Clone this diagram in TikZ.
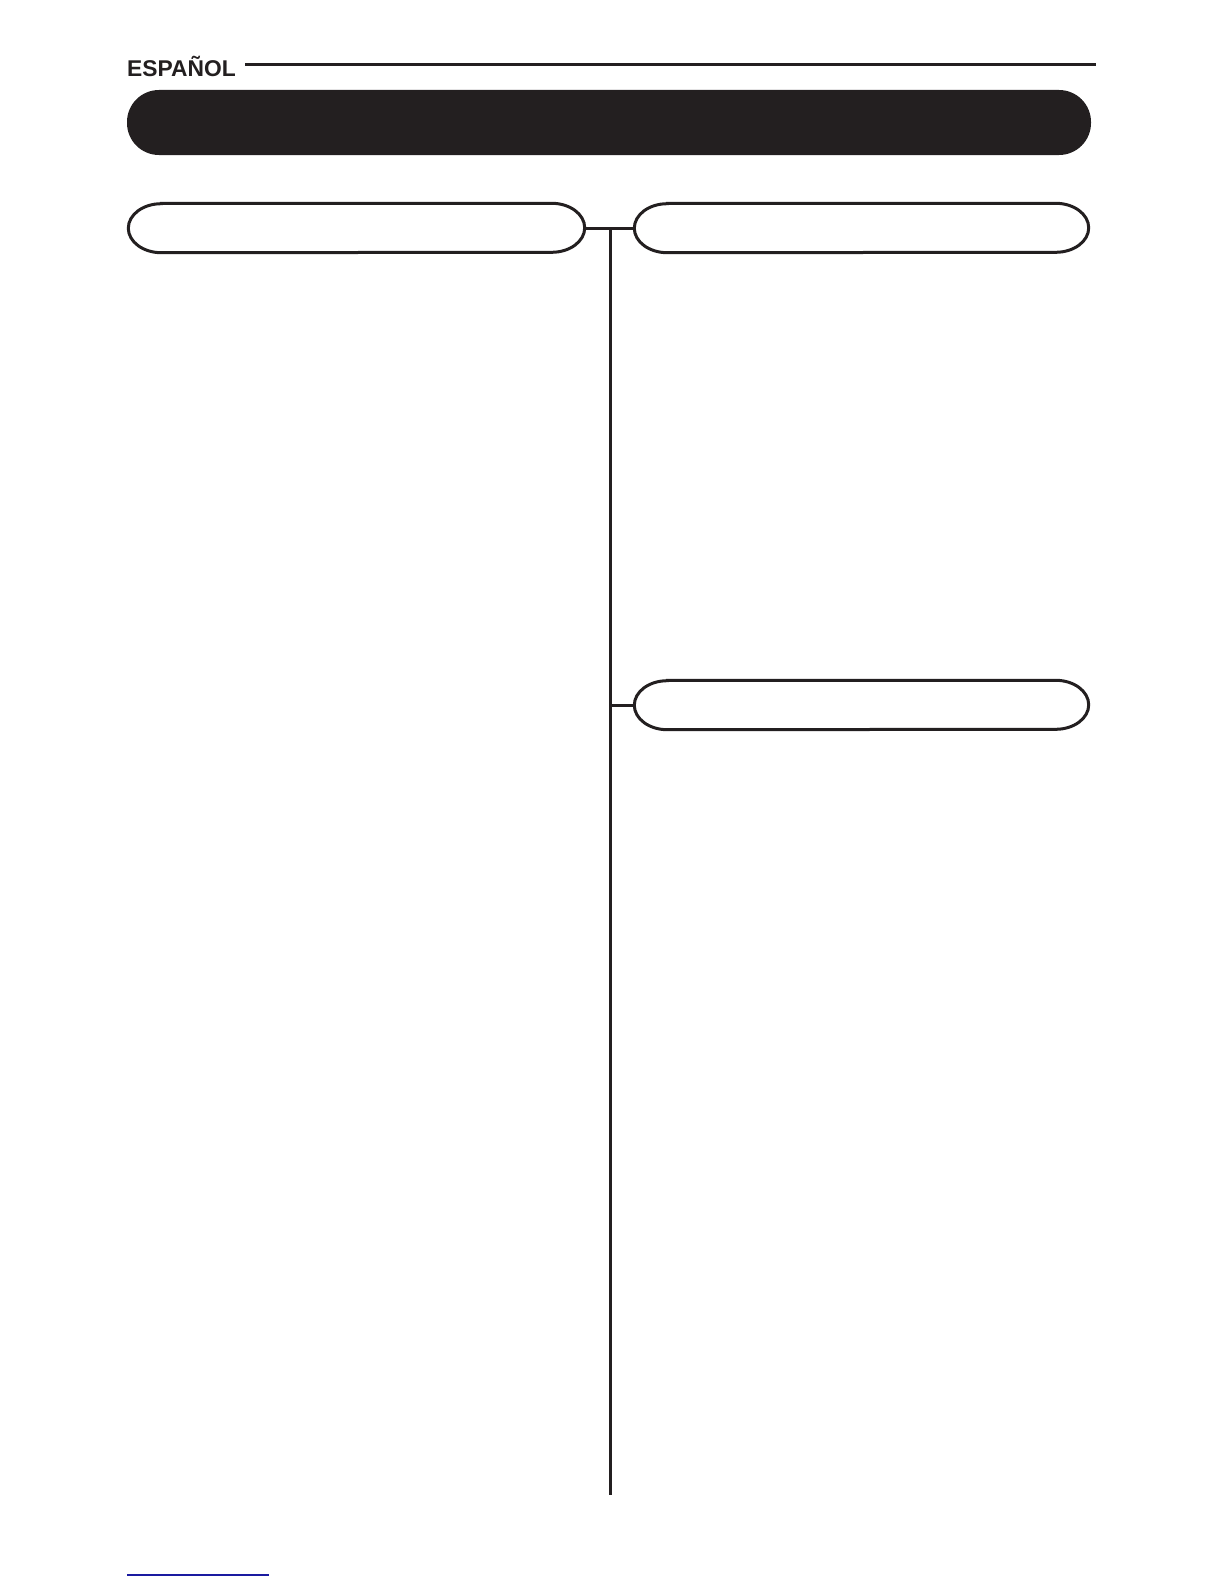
\documentclass[tikz,border=0pt]{standalone}
\usepackage{fontspec}
\setmainfont{Liberation Sans}
\usetikzlibrary{calc}
\definecolor{ink}{HTML}{231F20}
\definecolor{linkblue}{HTML}{1A1AA0}
\tikzset{
  x=1pt, y=1pt,
  rule/.style={line width=3pt, ink},
  bar/.style={rectangle, fill=ink, rounded corners=32pt, minimum width=964pt, minimum height=65pt, inner sep=0pt},
  ovalbox/.style={rectangle, minimum width=456pt, minimum height=49pt, inner sep=0pt},
  ovalline/.style={line width=3pt, ink},
  conn/.style={line width=3pt, ink},
  head/.style={font=\bfseries\fontsize{22.8}{27}\selectfont, text=ink, inner sep=0pt, anchor=base west}
}
\newcommand\ovaldraw[1]{%
  \draw[ovalline] ($(#1.north west)+(33,0)$) -- ($(#1.north east)+(-33,0)$)
    arc[start angle=90,end angle=-90,x radius=33,y radius=24.5]
    -- ($(#1.south west)+(33,0)$)
    arc[start angle=270,end angle=90,x radius=33,y radius=24.5] -- cycle;}
\begin{document}
\begin{tikzpicture}
\useasboundingbox (0,0) rectangle (1224,-1584);
\fill[white] (0,0) rectangle (1224,-1584);
% header
\node[head] (hd) at (127,-76.5) {ESPAÑOL};
\coordinate (hlineA) at (245,-65);
\coordinate (hlineB) at (1096,-65);
\draw[rule] (hlineA) -- (hlineB);
% title bar
\node[bar] (title) at (609,-122.5) {};
% oval boxes
\node[ovalbox, minimum width=456pt] (L1) at (356.5,-228) {};
\node[ovalbox, minimum width=454pt] (R1) at (861.5,-228) {};
\node[ovalbox, minimum width=454pt] (R2) at (861.5,-705) {};
\ovaldraw{L1}
\ovaldraw{R1}
\ovaldraw{R2}
% connectors
\coordinate (j1) at (610,-228);
\coordinate (j2) at (610,-705);
\coordinate (jend) at (610,-1495);
\draw[conn] (L1.east) -- (R1.west);
\draw[conn] (j1) -- (jend);
\draw[conn] (j2) -- (R2.west);
% bottom blue rule
\coordinate (bA) at (127,-1575);
\coordinate (bB) at (269,-1575);
\draw[linkblue, line width=1.3pt] (bA) -- (bB);
\end{tikzpicture}
\end{document}
